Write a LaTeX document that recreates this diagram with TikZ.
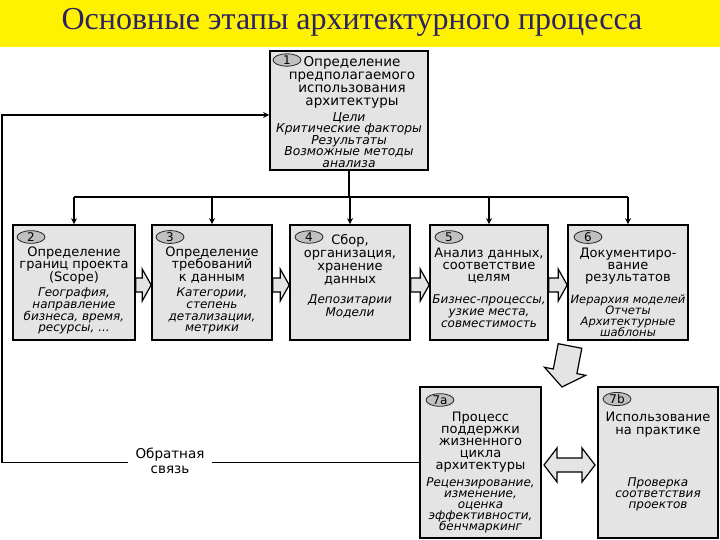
\documentclass[tikz,border=0pt]{standalone}
\usepackage{fontspec}
\setmainfont{DejaVu Sans}
\newfontfamily\titlefont{Liberation Serif}
\usetikzlibrary{shapes.geometric,arrows.meta,calc}
\definecolor{boxgray}{RGB}{228,228,228}
\definecolor{badgegray}{RGB}{192,192,192}
\definecolor{titleblue}{RGB}{44,34,100}
\newcommand\fixls{\lineskiplimit=-40pt\relax}
\begin{document}
\begin{tikzpicture}[x=1pt,y=-1pt,
  box/.style={draw=black, line width=1.6pt, fill=boxgray, inner sep=0},
  badge/.style={ellipse, draw=black!85, line width=0.8pt, fill=badgegray, minimum width=28pt, minimum height=12pt, inner sep=0, font=\fontsize{12}{12}\selectfont},
  ttl/.style={align=center, inner sep=0, anchor=north, font=\fontsize{13}{12.4}\selectfont\fixls},
  itl/.style={align=center, inner sep=0, anchor=north, font=\fontsize{12}{11.6}\selectfont\itshape\fixls},
  conn/.style={line width=1.5pt, -{Stealth[length=6pt,width=6pt]}},
  blk/.style={draw=black, line width=1.2pt, fill=boxgray, line join=miter}
]
\useasboundingbox (0,0) rectangle (720,540);
% title band
\fill[yellow] (0,0) rectangle (720,47);
\node[font=\titlefont\fontsize{32}{34}\selectfont, text=titleblue, inner sep=0] (title) at (352,22) {Основные этапы архитектурного процесса};

% box 1
\node[box, minimum width=158pt, minimum height=119pt] (b1) at (349,110.5) {};
\node[badge] (n1) at (287,60) {1};
\node[ttl, font=\fontsize{13.5}{13}\selectfont\fixls] (t1) at (352,56.5) {Определение\\предполагаемого\\использования\\архитектуры};
\node[itl, font=\fontsize{12.3}{11.6}\selectfont\itshape\fixls] (i1) at (349,112) {Цели\\Критические факторы\\Результаты\\Возможные методы\\анализа};

% row boxes
\node[box, minimum width=122pt, minimum height=115pt] (b2) at (74,282.5) {};
\node[box, minimum width=120pt, minimum height=115pt] (b3) at (212,282.5) {};
\node[box, minimum width=120pt, minimum height=115pt] (b4) at (350,282.5) {};
\node[box, minimum width=118pt, minimum height=115pt] (b5) at (489,282.5) {};
\node[box, minimum width=120pt, minimum height=115pt] (b6) at (628,282.5) {};

\node[badge] (n2) at (31,237) {2};
\node[ttl] (t2) at (74,246.5) {Определение\\границ проекта\\(Scope)};
\node[itl] (i2) at (74,288) {География,\\направление\\бизнеса, время,\\ресурсы, ...};

\node[badge] (n3) at (170,237) {3};
\node[ttl] (t3) at (212,246.5) {Определение\\требований\\к данным};
\node[itl] (i3) at (212,288) {Категории,\\степень\\детализации,\\метрики};

\node[badge] (n4) at (309,237) {4};
\node[ttl, font=\fontsize{13}{13}\selectfont\fixls] (t4) at (350,234.5) {Сбор,\\организация,\\хранение\\данных};
\node[itl, font=\fontsize{12}{12.5}\selectfont\itshape\fixls] (i4) at (350,295) {Депозитарии\\Модели};

\node[badge] (n5) at (449,237) {5};
\node[ttl] (t5) at (489,247.5) {Анализ данных,\\соответствие\\целям};
\node[itl] (i5) at (489,295) {Бизнес-процессы,\\узкие места,\\совместимость};

\node[badge] (n6) at (588,237) {6};
\node[ttl] (t6) at (628,247.5) {Документиро-\\вание\\результатов};
\node[itl, font=\fontsize{11.5}{10.8}\selectfont\itshape\fixls] (i6) at (628,295) {Иерархия моделей\\Отчеты\\Архитектурные\\шаблоны};

% boxes 7a, 7b
\node[box, minimum width=121pt, minimum height=151pt] (b7a) at (480.5,462.5) {};
\node[box, minimum width=120pt, minimum height=151pt] (b7b) at (658,462.5) {};
\node[badge] (n7a) at (440,400) {7a};
\node[ttl, font=\fontsize{13}{12.2}\selectfont\fixls] (t7a) at (480.5,411.5) {Процесс\\поддержки\\жизненного\\цикла\\архитектуры};
\node[itl, font=\fontsize{12}{11}\selectfont\itshape\fixls] (i7a) at (480.5,477.5) {Рецензирование,\\изменение,\\оценка\\эффективности,\\бенчмаркинг};
\node[badge] (n7b) at (617,399) {7b};
\node[ttl, font=\fontsize{13}{13}\selectfont\fixls] (t7b) at (658,411.5) {Использование\\на практике};
\node[itl, font=\fontsize{12}{11}\selectfont\itshape\fixls] (i7b) at (658,477.5) {Проверка\\соответствия\\проектов};

% distribution bus from box 1
\coordinate (bus) at (349,197);
\draw[line width=1.5pt] (b1.south) -- (bus);
\draw[line width=1.5pt] (bus -| b2.north) -- (bus -| b6.north);
\foreach \b in {b2,b3,b4,b5,b6}
  \draw[conn] (bus -| \b.north) -- (\b.north);

% block arrows between row boxes
\coordinate (al) at (0,285);
\foreach \a/\b in {b2/b3,b3/b4,b4/b5,b5/b6}
  \draw[blk] ($(\a.east |- al)+(0,-7)$) -- ($(\b.west |- al)+(-9,-7)$) -- ($(\b.west |- al)+(-9,-16)$) -- (\b.west |- al) -- ($(\b.west |- al)+(-9,16)$) -- ($(\b.west |- al)+(-9,7)$) -- ($(\a.east |- al)+(0,7)$) -- cycle;

% big down arrow to 7a
\draw[blk] (558.2,343.7) -- (581.8,348.3) -- (576.9,373.6) -- (585.7,375.3) -- (562,387) -- (544.5,367.3) -- (553.3,369.0) -- cycle;

% double arrow between 7a and 7b
\draw[blk] (544,465) -- (557,448) -- (557,458) -- (582,458) -- (582,448) -- (595,465) -- (582,482) -- (582,472) -- (557,472) -- (557,482) -- cycle;

% feedback loop
\coordinate (fbL) at (2,462.5);
\coordinate (fbT) at (2,115);
\draw[line width=1.2pt, -{Stealth[length=6pt,width=6pt]}] (b7a.west) -- (fbL) -- (fbT) -- ($(b1.west)+(0,4.5)$);
\node[fill=white, align=center, inner xsep=8pt, inner ysep=1pt, font=\fontsize{13.5}{15.5}\selectfont] (fbl) at (170,461) {Обратная\\связь};
\end{tikzpicture}
\end{document}
